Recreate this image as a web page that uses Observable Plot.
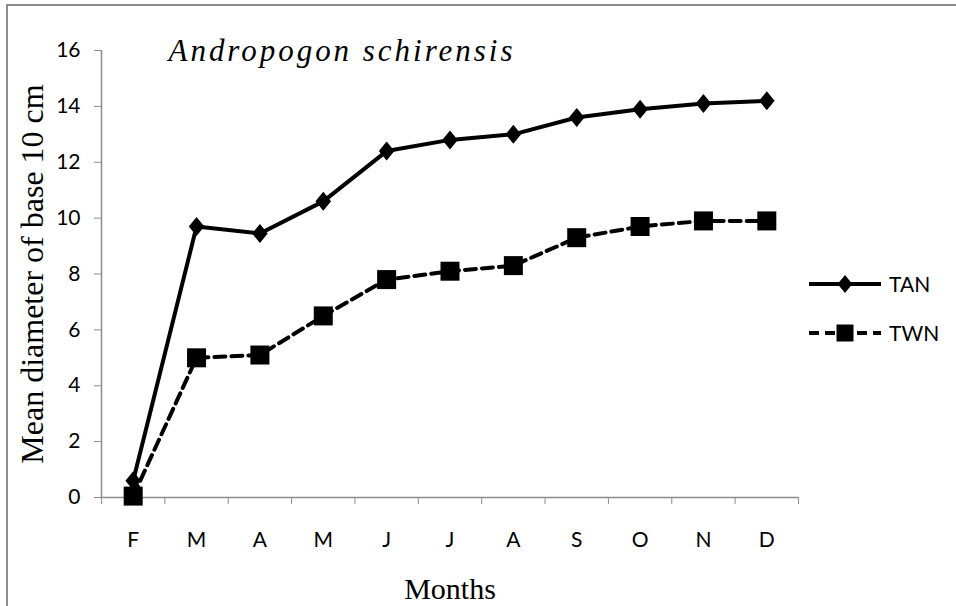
<!DOCTYPE html>
<html>
<head>
<meta charset="utf-8">
<script src="https://cdn.jsdelivr.net/npm/d3@7"></script>
<script src="https://cdn.jsdelivr.net/npm/@observablehq/plot@0.6"></script>
<style>
  html, body { margin: 0; padding: 0; background: #fff; }
  #wrap { position: relative; width: 956px; height: 606px; overflow: hidden; background: #fff; }
  #frame { position: absolute; left: 6px; top: 4px; width: 980px; height: 640px; border-left: 2px solid #8c8c8c; border-top: 2px solid #8c8c8c; box-sizing: border-box; }
  #chart { position: absolute; left: 0; top: 0; }
  #legend { position: absolute; left: 0; top: 0; }
</style>
</head>
<body>
<div id="wrap">
  <div id="frame"></div>
  <div id="chart"></div>
  <svg id="legend" width="956" height="606"></svg>
</div>
<script>
const months = ["F", "M", "A", "M", "J", "J", "A", "S", "O", "N", "D"];
const tan = [0.6, 9.7, 9.45, 10.6, 12.4, 12.8, 13.0, 13.6, 13.9, 14.1, 14.2];
const twn = [0.05, 5.0, 5.1, 6.5, 7.8, 8.1, 8.3, 9.3, 9.7, 9.9, 9.9];
const seriesNames = ["TAN", "TWN"];
const yTicks = [0, 2, 4, 6, 8, 10, 12, 14, 16];
const title = "Andropogon schirensis";
const yLabel = "Mean diameter of base 10 cm";
const xLabel = "Months";

const tanData = months.map((m, i) => ({i, m, v: tan[i]}));
const twnData = months.map((m, i) => ({i, m, v: twn[i]}));

const diamond = {
  draw(ctx, size) {
    const r = Math.sqrt(size / Math.PI);
    const w = r * 0.82, h = r;
    ctx.moveTo(0, -h); ctx.lineTo(w, 0); ctx.lineTo(0, h); ctx.lineTo(-w, 0); ctx.closePath();
  }
};
const square = {
  draw(ctx, size) {
    const r = Math.sqrt(size / Math.PI);
    ctx.rect(-r, -r, 2 * r, 2 * r);
  }
};

const axisColor = "#8c8c8c";
const tickFont = "Lato, 'Open Sans', sans-serif";
const serif = "'Liberation Serif', 'Times New Roman', serif";

const plot = Plot.plot({
  width: 956,
  height: 606,
  marginLeft: 101,
  marginRight: 158,
  marginTop: 50,
  marginBottom: 109,
  style: {background: "transparent", overflow: "visible"},
  x: {type: "linear", domain: [-0.5, months.length - 0.5]},
  y: {domain: [0, 16]},
  marks: [
    Plot.ruleY([0], {stroke: axisColor, strokeWidth: 1.5}),
    Plot.ruleX([-0.5], {stroke: axisColor, strokeWidth: 1.5}),
    Plot.axisY({ticks: yTicks, tickSize: 7, tickPadding: 14, stroke: axisColor, tickFormat: d => d, fontSize: 21, fontFamily: tickFont, fill: "#000", label: null}),
    Plot.axisX({ticks: d3.range(months.length + 1).map(k => k - 0.5), tickSize: 7, stroke: axisColor, tickFormat: () => "", label: null}),
    Plot.axisX({ticks: d3.range(months.length), tickSize: 0, tickPadding: 35, tickFormat: i => months[i], fontSize: 21, fontFamily: tickFont, fill: "#000", label: null}),
    Plot.line(twnData, {x: "i", y: "v", stroke: "#000", strokeWidth: 4, strokeDasharray: "11,6", curve: "linear"}),
    Plot.line(tanData, {x: "i", y: "v", stroke: "#000", strokeWidth: 4, curve: "linear"}),
    Plot.dot(twnData, {x: "i", y: "v", symbol: square, r: 9.5, fill: "#000", stroke: "none"}),
    Plot.dot(tanData, {x: "i", y: "v", symbol: diamond, r: 9.5, fill: "#000", stroke: "none"}),
    Plot.text([title], {frameAnchor: "top-left", dx: 67, dy: 10, lineAnchor: "bottom", textAnchor: "start", fontSize: 31, fontStyle: "italic", fontFamily: serif, fill: "#000"}),
    Plot.text([yLabel], {frameAnchor: "left", dx: -69, rotate: -90, textAnchor: "middle", fontSize: 32, fontFamily: serif, fill: "#000"}),
    Plot.text([xLabel], {frameAnchor: "bottom", dy: 101, lineAnchor: "bottom", textAnchor: "middle", fontSize: 30, fontFamily: serif, fill: "#000"})
  ]
});
document.getElementById("chart").appendChild(plot);

// stretch title to reference width
plot.querySelectorAll("text").forEach(t => {
  if (t.textContent === title) { t.setAttribute("textLength", 344); t.setAttribute("lengthAdjust", "spacing"); }
});

// legend
const lg = d3.select("#legend");
const items = [
  {name: seriesNames[0], y: 284, dash: null, sym: diamond, r: 9},
  {name: seriesNames[1], y: 333, dash: "10,6", sym: square, r: 8.5}
];
items.forEach(it => {
  lg.append("line").attr("x1", 809).attr("x2", 881).attr("y1", it.y).attr("y2", it.y)
    .attr("stroke", "#000").attr("stroke-width", 4).attr("stroke-dasharray", it.dash);
  lg.append("path").attr("transform", `translate(845,${it.y})`)
    .attr("d", d3.symbol(it.sym, Math.PI * it.r * it.r)()).attr("fill", "#000");
  lg.append("text").attr("x", 889).attr("y", it.y).attr("dy", "0.36em")
    .attr("font-family", tickFont).attr("font-size", 21).text(it.name);
});
</script>
</body>
</html>
